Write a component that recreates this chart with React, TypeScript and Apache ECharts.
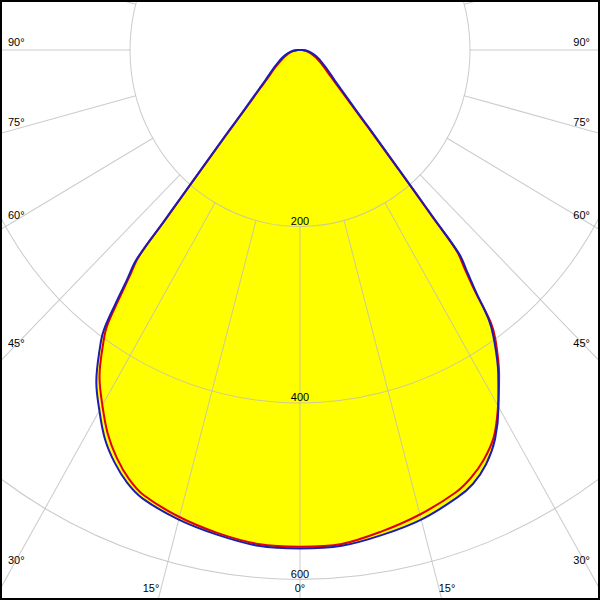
import React, { useEffect, useRef } from "react";
import * as echarts from "echarts";

// Angles (degrees from nadir) at which intensities were read
const ANGLES = [0, 5, 10, 15, 20, 22.5, 25, 27.5, 30, 32.5, 35, 36, 37, 38, 39, 39.5, 40, 41, 42, 43, 45, 47.5, 50, 55, 60, 65, 70, 75, 80, 85, 90];
// C90 - C270 plane (blue), cd/klm
const C90 = [565, 564, 558, 551, 541, 531, 516, 497, 472, 446, 410, 393, 362, 331, 306, 252, 215, 165, 134, 111, 84, 65, 53, 40, 31, 25, 20, 15, 11, 7, 3];
const C270 = [565, 564, 558, 551, 540, 532, 518, 497, 467, 434, 397, 378, 345, 320, 298, 250, 215, 165, 134, 111, 84, 65, 53, 40, 31, 25, 20, 15, 11, 7, 3];
// C0 - C180 plane (red)
const C0 = [563, 562, 556, 548, 537, 526, 510, 490, 465, 439, 403, 386, 355, 326, 302, 248, 212, 162, 131, 108, 81, 62, 50, 37, 28, 22, 17, 13, 9, 5, 2];
const C180 = [563, 562, 554, 545, 534, 525, 512, 494, 466, 436, 401, 382, 342, 315, 293, 245, 210, 160, 129, 106, 79, 60, 48, 35, 27, 21, 16, 12, 8, 5, 2];

const RADIUS_TICKS = [200, 400, 600];
const RADIUS_MAX = 800;
const ANGLE_STEP = 15;
const SIDE_ANGLE_LABELS = ["90°", "75°", "60°", "45°", "30°"];
const BOTTOM_ANGLE_LABELS = ["15°", "0°", "15°"];

// layout (pixels)
const W = 600;
const H = 578;
const K = 600 / H; // vertical stretch of the reference picture
const CX = 300;
const CY = 50 / K;
const PX_PER_CD = 0.85;
const SIDE_LABEL_Y = [42, 122, 215, 343, 560];
const BOTTOM_LABEL_X = [151, 300, 447];
const BOTTOM_LABEL_Y = 588;
const SMOOTH = 0.35;

const GRID = "rgba(188,188,188,0.78)";
const FONT = '11px "Liberation Sans", Arial, sans-serif';

function toPolar(left: number[], right: number[]) {
  const l = ANGLES.map((a, i) => [left[i], a]).reverse();
  const r = ANGLES.map((a, i) => [right[i], 360 - a]);
  return [[0, 180], ...l, ...r, [0, 180]];
}

export default function App() {
  const ref = useRef<HTMLDivElement>(null);
  useEffect(() => {
    if (!ref.current) return;
    const chart = echarts.init(ref.current, undefined, { renderer: "svg" });
    const blue = toPolar(C90, C270);
    const red = toPolar(C0, C180);
    const R = RADIUS_MAX * PX_PER_CD;
    const inner = RADIUS_TICKS[0] * PX_PER_CD;

    const texts: any[] = [];
    SIDE_ANGLE_LABELS.forEach((t, i) => {
      texts.push({
        type: "text",
        z: 100,
        style: { text: t, x: 8, y: SIDE_LABEL_Y[i] / K, font: FONT, fill: "#000", textAlign: "left", textVerticalAlign: "middle", align: "left", verticalAlign: "middle" },
      });
      texts.push({
        type: "text",
        z: 100,
        style: { text: t, x: 590, y: SIDE_LABEL_Y[i] / K, font: FONT, fill: "#000", textAlign: "right", textVerticalAlign: "middle", align: "right", verticalAlign: "middle" },
      });
    });
    BOTTOM_ANGLE_LABELS.forEach((t, i) => {
      texts.push({
        type: "text",
        z: 100,
        style: { text: t, x: BOTTOM_LABEL_X[i], y: BOTTOM_LABEL_Y / K, font: FONT, fill: "#000", textAlign: "center", textVerticalAlign: "middle", align: "center", verticalAlign: "middle" },
      });
    });

    chart.setOption({
      animation: false,
      backgroundColor: "#ffffff",
      polar: [
        { center: [CX, CY], radius: R },
        { center: [CX, CY], radius: [inner, R] },
      ],
      angleAxis: [
        {
          polarIndex: 0, type: "value", min: 0, max: 360, startAngle: 270, clockwise: true,
          axisLine: { show: false }, axisTick: { show: false }, axisLabel: { show: false }, splitLine: { show: false },
        },
        {
          polarIndex: 1, type: "value", min: 0, max: 360, interval: ANGLE_STEP, startAngle: 270, clockwise: true, z: 3,
          axisLine: { show: false }, axisTick: { show: false }, axisLabel: { show: false },
          splitLine: { show: true, lineStyle: { color: GRID, width: 1 } },
        },
      ],
      radiusAxis: [
        {
          polarIndex: 0, type: "value", min: 0, max: RADIUS_MAX, interval: 200, z: 3,
          axisLine: { show: false }, axisTick: { show: false },
          axisLabel: {
            show: true, margin: 0, align: "center", verticalAlign: "bottom", color: "#000",
            fontSize: 11, fontFamily: '"Liberation Sans", Arial, sans-serif',
            formatter: (v: number) => (RADIUS_TICKS.includes(v) ? String(v) : ""),
          },
          splitLine: { show: true, lineStyle: { color: GRID, width: 1 } },
        },
        {
          polarIndex: 1, type: "value", min: 0, max: RADIUS_MAX,
          axisLine: { show: false }, axisTick: { show: false }, axisLabel: { show: false }, splitLine: { show: false },
        },
      ],
      series: [
        { name: "fill C90-C270", type: "line", coordinateSystem: "polar", polarIndex: 0, data: blue, smooth: SMOOTH, symbol: "none", lineStyle: { width: 0, opacity: 0 }, areaStyle: { color: "#ffff00", opacity: 1 }, z: 1, silent: true },
        { name: "fill C0-C180", type: "line", coordinateSystem: "polar", polarIndex: 0, data: red, smooth: SMOOTH, symbol: "none", lineStyle: { width: 0, opacity: 0 }, areaStyle: { color: "#ffff00", opacity: 1 }, z: 1, silent: true },
        { name: "C0 - C180", type: "line", coordinateSystem: "polar", polarIndex: 0, data: red, smooth: SMOOTH, symbol: "none", lineStyle: { color: "#e00000", width: 2 }, z: 5 },
        { name: "C90 - C270", type: "line", coordinateSystem: "polar", polarIndex: 0, data: blue, smooth: SMOOTH, symbol: "none", lineStyle: { color: "#1c1cb4", width: 2 }, z: 6 },
      ],
      graphic: texts,
    });
    return () => chart.dispose();
  }, []);

  return (
    <div style={{ position: "fixed", left: 0, top: 0, width: W, height: 600, overflow: "hidden", background: "#fff" }}>
      <div ref={ref} style={{ width: W, height: H, transform: `scaleY(${K})`, transformOrigin: "0 0" }} />
      <div style={{ position: "absolute", left: 0, top: 0, width: W, height: 600, boxSizing: "border-box", border: "2px solid #000", pointerEvents: "none" }} />
    </div>
  );
}
